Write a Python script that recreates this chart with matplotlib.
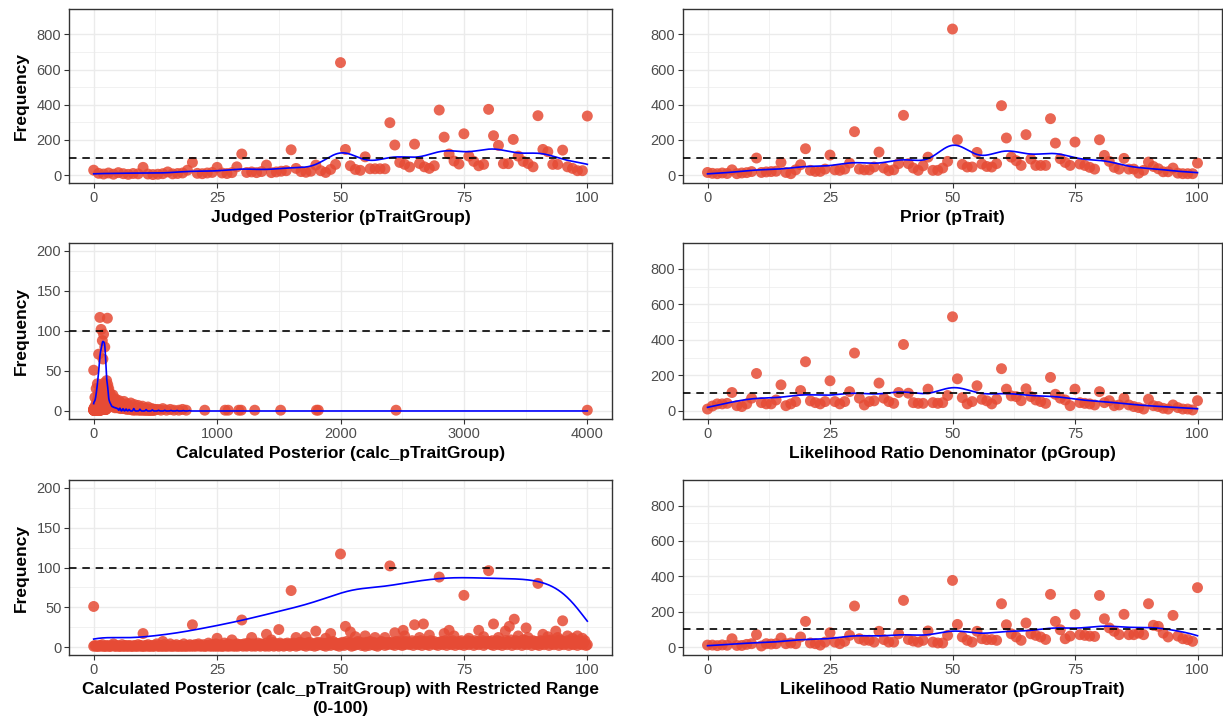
# Frequency plots of the posterior / prior / likelihood responses
import numpy as np
import matplotlib
matplotlib.use('Agg')
import matplotlib.pyplot as plt

plt.rcParams['font.family'] = ['Liberation Sans', 'DejaVu Sans']

# ---- data: frequency of each integer response 0..100 ----
resp = np.arange(0, 101)

judged_freq = [28, 10, 6, 12, 5, 14, 8, 4, 9, 7,
               44, 6, 3, 5, 8, 18, 7, 9, 12, 28,
               72, 10, 8, 12, 15, 44, 12, 9, 14, 47,
               120, 15, 18, 14, 20, 57, 14, 18, 22, 25,
               144, 38, 20, 16, 22, 57, 25, 15, 32, 61,
               640, 146, 53, 32, 27, 104, 36, 36, 36, 36,
               298, 171, 72, 61, 46, 176, 66, 47, 38, 53,
               370, 216, 120, 80, 63, 235, 108, 78, 53, 61,
               374, 224, 169, 65, 65, 203, 108, 78, 66, 47,
               338, 146, 133, 61, 61, 142, 47, 38, 25, 25,
               336]

prior_freq = [15, 10, 8, 12, 9, 30, 8, 12, 14, 20,
              97, 15, 18, 20, 22, 72, 15, 8, 30, 59,
              150, 27, 21, 21, 34, 114, 30, 27, 34, 68,
              247, 34, 30, 30, 46, 131, 40, 25, 30, 65,
              340, 65, 40, 27, 53, 102, 27, 27, 40, 78,
              831, 201, 61, 46, 46, 129, 63, 49, 46, 65,
              395, 211, 102, 82, 55, 230, 91, 55, 55, 55,
              321, 182, 93, 72, 55, 188, 63, 55, 44, 34,
              201, 112, 78, 44, 34, 95, 34, 34, 11, 27,
              74, 49, 36, 19, 19, 40, 11, 8, 8, 8,
              68]

pgroup_freq = [11, 28, 40, 40, 43, 104, 30, 25, 40, 72,
               211, 47, 40, 40, 62, 147, 30, 40, 53, 115,
               277, 57, 47, 40, 53, 170, 53, 40, 53, 109,
               326, 72, 34, 53, 57, 157, 72, 53, 43, 104,
               374, 100, 47, 43, 43, 123, 47, 43, 47, 87,
               530, 181, 75, 40, 53, 142, 66, 57, 40, 66,
               238, 123, 85, 81, 58, 125, 81, 62, 53, 43,
               189, 94, 72, 62, 30, 123, 47, 43, 40, 34,
               109, 47, 58, 30, 34, 72, 34, 25, 19, 11,
               66, 30, 25, 15, 11, 34, 19, 11, 11, 6,
               58]

pgrouptrait_freq = [11, 11, 8, 12, 10, 47, 9, 9, 15, 19,
                    70, 6, 19, 17, 19, 51, 19, 23, 19, 57,
                    145, 23, 19, 11, 28, 81, 28, 19, 32, 66,
                    232, 47, 38, 38, 28, 89, 42, 28, 28, 75,
                    264, 43, 34, 28, 38, 91, 28, 23, 23, 66,
                    377, 128, 57, 38, 28, 89, 47, 42, 42, 38,
                    245, 126, 75, 57, 38, 136, 75, 66, 57, 43,
                    298, 145, 98, 47, 62, 185, 70, 66, 62, 60,
                    292, 160, 108, 89, 70, 185, 70, 70, 79, 70,
                    245, 123, 117, 79, 57, 179, 62, 47, 42, 32,
                    336]

# ---- calculated posterior (continuous values) ----
# low-frequency band of unique values in 0..100, one digit per 0.25 step
calc_band_x = np.arange(0, 100.01, 0.25)
calc_band_digits = ("1211121311121112411211131121121112113121"
                    "1121311211241121131121411213112114112131"
                    "2131241213112513121412131152141231214132"
                    "3142152314213521432153142613241523142531"
                    "4253142635241536243152643524153624735241"
                    "5362475361425374625316427536241537462536"
                    "4635274638253746358264735826473528647352"
                    "6473582647385264738526483756284736582647"
                    "5738264837526483759264837562948375628473"
                    "6284736582947365829473658274635827463582"
                    "3")
calc_band_freq = [int(c) for c in calc_band_digits]

# higher-frequency unique values inside 0..100
calc_peak_x = [0, 10, 14, 20, 25, 28, 30, 32, 35, 36, 37.5, 40, 41, 43, 45, 47, 48,
               50, 51, 52, 53, 55, 57, 59, 60, 61, 62.7, 63, 65, 66, 66.8, 68,
               70, 71, 72, 73, 75, 76, 78, 79, 80, 81, 82, 83.4, 84.2, 85.2, 86,
               87.6, 88, 90, 91, 92, 93.6, 94, 95, 96, 97, 98, 99]
calc_peak_freq = [51, 17, 7, 28, 11, 9, 34, 12, 16, 9, 22, 71, 12, 13, 20, 11, 17,
                  117, 26, 19, 13, 14, 12, 12, 102, 18, 21, 14, 28, 12, 29, 15,
                  88, 17, 21, 14, 65, 11, 21, 13, 96, 29, 12, 20, 26, 35, 14,
                  24, 12, 80, 16, 13, 20, 12, 33, 14, 11, 14, 11]

# values above 100 (only in the full-range panel)
calc_tail_x = np.arange(102.5, 500, 5)
calc_tail_digits = ("9786957869" "6757465746" "5463546345" "4352435243"
                    "3241324132" "2312314213" "2131213121" "1211312112")
calc_tail_freq = [int(c) for c in calc_tail_digits]
calc_far_x = [105, 108, 111, 114, 118, 122, 127, 133, 140, 148, 156, 165, 178, 190,
              205, 222, 245, 270, 300, 330, 360, 395, 440, 520, 545, 560, 590, 620,
              650, 690, 720, 750, 900, 1065, 1090, 1175, 1195, 1305, 1515, 1805,
              1820, 2450, 4000]
calc_far_freq = [38, 30, 116, 33, 25, 28, 20, 22, 18, 16, 20, 14, 15, 12,
                 13, 10, 12, 9, 10, 8, 7, 6, 5, 2, 1, 3, 1, 2,
                 1, 1, 2, 1, 1, 1, 1, 1, 1, 1, 1, 1,
                 1, 1, 1]

# total number of responses per bin of calc_pTraitGroup (for the density curve)
calc_bin_mid = [0, 2.5, 7.5, 12.5, 17.5, 22.5, 27.5, 32.5, 37.5, 42.5, 47.5,
                52.5, 57.5, 62.5, 67.5, 72.5, 77.5, 82.5, 87.5, 92.5, 97.5]
calc_bin_total = [51, 45, 55, 70, 90, 120, 150, 185, 225, 260, 310,
                  375, 370, 400, 425, 440, 435, 430, 430, 410, 310]
calc_tail_bin_mid = [102.5, 107.5, 112.5, 117.5, 122.5, 127.5, 132.5, 137.5, 142.5,
                     147.5, 155, 165, 175, 185, 195, 212.5, 237.5, 262.5, 287.5,
                     325, 375, 425, 475, 525, 575, 625, 675, 725, 775]
calc_tail_bin_total = [225, 150, 200, 90, 70, 60, 50, 45, 35,
                       30, 50, 45, 40, 35, 30, 40, 32, 28, 22,
                       35, 25, 20, 15, 10, 10, 8, 8, 6, 6]


# ---- helpers ----
def bw_nrd0(x, w):
    xs = np.repeat(np.asarray(x, float), np.asarray(w, int))
    sd = np.std(xs, ddof=1)
    iqr = np.percentile(xs, 75) - np.percentile(xs, 25)
    return 0.9 * min(sd, iqr / 1.34) * len(xs) ** -0.2


def count_density(x, w, lo, hi):
    # gaussian kernel density scaled to counts (like ..count..)
    x = np.asarray(x, float)
    w = np.asarray(w, float)
    bw = bw_nrd0(x, w)
    g = np.linspace(lo, hi, 2000)
    d = (w[None, :] * np.exp(-0.5 * ((g[:, None] - x[None, :]) / bw) ** 2)).sum(axis=1)
    return g, d / (bw * np.sqrt(2 * np.pi))


PT = '#E64B35'
GRID = '#EBEBEB'
DARK = '#333333'


def style(ax, xlim, ylim, xmaj, xmin, ymaj, ymin):
    ax.set_xlim(xlim)
    ax.set_ylim(ylim)
    ax.set_xticks(xmaj)
    ax.set_xticks(xmin, minor=True)
    ax.set_yticks(ymaj)
    ax.set_yticks(ymin, minor=True)
    ax.grid(True, which='major', color=GRID, lw=1.0, zorder=0)
    ax.grid(True, which='minor', color=GRID, lw=0.5, zorder=0)
    ax.set_axisbelow(True)
    ax.tick_params(which='major', length=3.5, width=0.8, color=DARK,
                   labelsize=10.5, labelcolor='#4D4D4D', pad=2)
    ax.tick_params(which='minor', length=0)
    for s in ax.spines.values():
        s.set_color(DARK)
        s.set_linewidth(1.0)


def draw(ax, x, y, gx, gy):
    ax.scatter(x, y, s=62, color=PT, alpha=0.85, edgecolors='none', zorder=3)
    ax.plot(gx, gy, color='blue', lw=1.2, zorder=4)
    ax.axhline(100, color='black', lw=1.2, ls=(0, (4.5, 3.5)), zorder=5)


fig = plt.figure(figsize=(12.23, 7.21), dpi=100)

W, H = 1223.0, 721.0
cols = [(69, 612), (683, 1222)]
rows = [(9, 183), (243, 419), (480, 655)]


def make_ax(r, c):
    l, rgt = cols[c]
    t, b = rows[r]
    return fig.add_axes([l / W, 1 - b / H, (rgt - l) / W, (b - t) / H])


lab = dict(fontsize=12.5, fontweight='bold', color='black')
big_y = ([0, 200, 400, 600, 800], [100, 300, 500, 700])
small_y = ([0, 50, 100, 150, 200], [25, 75, 125, 175])
pct_x = ([0, 25, 50, 75, 100], [12.5, 37.5, 62.5, 87.5])

# Judged posterior
ax = make_ax(0, 0)
style(ax, (-5, 105), (-45, 945), *pct_x, *big_y)
draw(ax, resp, judged_freq, *count_density(resp, judged_freq, 0, 100))
ax.set_xlabel('Judged Posterior (pTraitGroup)', labelpad=4, **lab)
ax.set_ylabel('Frequency', labelpad=6, **lab)

# Prior
ax = make_ax(0, 1)
style(ax, (-5, 105), (-45, 945), *pct_x, *big_y)
draw(ax, resp, prior_freq, *count_density(resp, prior_freq, 0, 100))
ax.set_xlabel('Prior (pTrait)', labelpad=4, **lab)

# Calculated posterior, full range
full_x = list(calc_band_x) + calc_peak_x + list(calc_tail_x) + calc_far_x
full_y = calc_band_freq + calc_peak_freq + calc_tail_freq + calc_far_freq
ax = make_ax(1, 0)
style(ax, (-200, 4200), (-10, 210), [0, 1000, 2000, 3000, 4000],
      [500, 1500, 2500, 3500], *small_y)
draw(ax, full_x, full_y,
     *count_density(calc_bin_mid + calc_tail_bin_mid + calc_far_x[32:],
                    calc_bin_total + calc_tail_bin_total + calc_far_freq[32:],
                    0, 4000))
ax.set_xlabel('Calculated Posterior (calc_pTraitGroup)', labelpad=4, **lab)
ax.set_ylabel('Frequency', labelpad=6, **lab)

# Likelihood ratio denominator
ax = make_ax(1, 1)
style(ax, (-5, 105), (-45, 945), *pct_x, *big_y)
draw(ax, resp, pgroup_freq, *count_density(resp, pgroup_freq, 0, 100))
ax.set_xlabel('Likelihood Ratio Denominator (pGroup)', labelpad=4, **lab)

# Calculated posterior, restricted range
ax = make_ax(2, 0)
style(ax, (-5, 105), (-10, 210), *pct_x, *small_y)
draw(ax, list(calc_band_x) + calc_peak_x, calc_band_freq + calc_peak_freq,
     *count_density(calc_bin_mid, calc_bin_total, 0, 100))
ax.set_xlabel('Calculated Posterior (calc_pTraitGroup) with Restricted Range\n(0-100)',
              labelpad=4, linespacing=1.3, **lab)
ax.set_ylabel('Frequency', labelpad=6, **lab)

# Likelihood ratio numerator
ax = make_ax(2, 1)
style(ax, (-5, 105), (-45, 945), *pct_x, *big_y)
draw(ax, resp, pgrouptrait_freq, *count_density(resp, pgrouptrait_freq, 0, 100))
ax.set_xlabel('Likelihood Ratio Numerator (pGroupTrait)', labelpad=4, **lab)

fig.savefig('out.png', dpi=100)
